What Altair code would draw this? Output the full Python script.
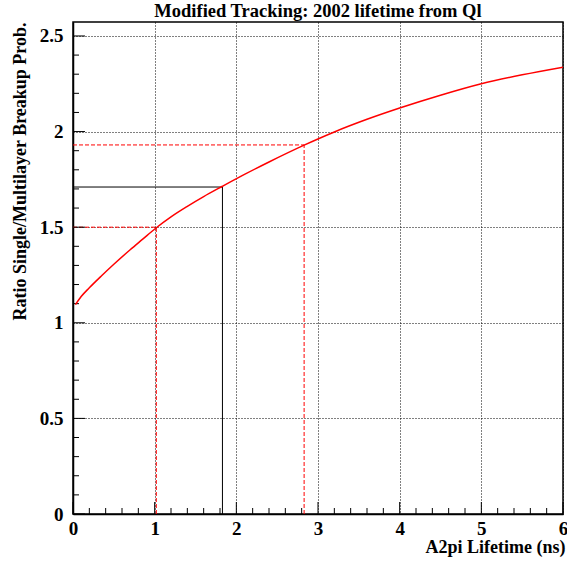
import altair as alt
import pandas as pd

# curve
curve_x = [0.03, 0.1, 0.2, 0.35, 0.5, 0.7, 0.85, 1.02, 1.2, 1.4, 1.6, 1.83, 2.1, 2.4, 2.83,
           3.2, 3.6, 4.0, 4.5, 5.0, 5.5, 6.0]
curve_y = [1.095, 1.137, 1.183, 1.246, 1.306, 1.382, 1.436, 1.497, 1.554, 1.609, 1.660, 1.714,
           1.776, 1.841, 1.929, 1.998, 2.064, 2.123, 2.190, 2.250, 2.297, 2.337]

# reference (drop) lines
ref_x = [1.02, 1.83, 2.83]
ref_y = [1.5, 1.71, 1.93]
ref_kind = ["red", "black", "red2"]

# axis ticks
x_major = [0, 1, 2, 3, 4, 5, 6]
x_minor = [0.2, 0.4, 0.6, 0.8, 1.2, 1.4, 1.6, 1.8, 2.2, 2.4, 2.6, 2.8,
           3.2, 3.4, 3.6, 3.8, 4.2, 4.4, 4.6, 4.8, 5.2, 5.4, 5.6, 5.8]
y_major = [0, 0.5, 1.0, 1.5, 2.0, 2.5]
y_minor = [0.1, 0.2, 0.3, 0.4, 0.6, 0.7, 0.8, 0.9, 1.1, 1.2, 1.3, 1.4,
           1.6, 1.7, 1.8, 1.9, 2.1, 2.2, 2.3, 2.4]

X_MAX = 6
Y_MAX = 2.573
W, H = 490, 492
FONT = "Liberation Serif"

curve = pd.DataFrame({"x": curve_x, "y": curve_y})
refs = pd.DataFrame({"x": ref_x, "y": ref_y, "kind": ref_kind, "zero": [0.0] * 3})

xs = alt.Scale(domain=[0, X_MAX], nice=False, zero=True)
ys = alt.Scale(domain=[0, Y_MAX], nice=False, zero=True)

xaxis = alt.Axis(
    values=x_major, grid=True, gridDash=[1, 2], gridColor="black", gridWidth=1,
    ticks=False, tickSize=0, domain=True, domainColor="black", domainWidth=1.5,
    labelFont=FONT, labelFontWeight="bold", labelFontSize=19, labelColor="black",
    labelPadding=5, labelBaseline="top", labelFlush=False, labelOverlap=False,
    labelExpr="datum.value",
    title="A2pi Lifetime (ns)", titleFont=FONT, titleFontWeight="bold", titleFontSize=18,
    titleColor="black", titleAnchor="end", titleAlign="right", titleBaseline="alphabetic",
    titleX=492, titleY=38,
)
yaxis = alt.Axis(
    values=y_major, grid=True, gridDash=[1, 2], gridColor="black", gridWidth=1,
    ticks=False, tickSize=0, domain=True, domainColor="black", domainWidth=1.5,
    labelFont=FONT, labelFontWeight="bold", labelFontSize=19, labelColor="black",
    labelPadding=10, labelFlush=False, labelOverlap=False,
    labelExpr="datum.value",
    title="Ratio Single/Multilayer Breakup Prob.", titleFont=FONT, titleFontWeight="bold",
    titleFontSize=18, titleColor="black", titleAnchor="end", titleAlign="right",
    titleAngle=270, titleBaseline="alphabetic", titleX=-48, titleY=0,
)

base_line = alt.Chart(curve).mark_line(color="#ff0000", strokeWidth=1.5, interpolate="monotone", clip=True).encode(
    x=alt.X("x:Q", scale=xs, axis=xaxis),
    y=alt.Y("y:Q", scale=ys, axis=yaxis),
)

color_scale = alt.Scale(domain=["red", "black", "red2"], range=["#ff0000", "black", "#ff0000"])
dash_scale = alt.Scale(domain=["red", "black", "red2"], range=[[4, 2], [1, 0], [4, 2]])

vrules = alt.Chart(refs).mark_rule(strokeWidth=1).encode(
    x=alt.X("x:Q", scale=xs),
    y=alt.Y("zero:Q", scale=ys),
    y2="y:Q",
    color=alt.Color("kind:N", scale=color_scale, legend=None),
    strokeDash=alt.StrokeDash("kind:N", scale=dash_scale, legend=None),
)
hrules = alt.Chart(refs).mark_rule(strokeWidth=1).encode(
    x=alt.X("zero:Q", scale=xs),
    x2="x:Q",
    y=alt.Y("y:Q", scale=ys),
    color=alt.Color("kind:N", scale=color_scale, legend=None),
    strokeDash=alt.StrokeDash("kind:N", scale=dash_scale, legend=None),
)

def xticks(vals, size):
    return alt.Chart(pd.DataFrame({"t": vals})).mark_rule(color="black", strokeWidth=1).encode(
        x=alt.X("t:Q", scale=xs), y=alt.value(H), y2=alt.value(H - size))

def yticks(vals, size):
    return alt.Chart(pd.DataFrame({"t": vals})).mark_rule(color="black", strokeWidth=1).encode(
        y=alt.Y("t:Q", scale=ys), x=alt.value(0), x2=alt.value(size))

chart = alt.layer(
    vrules, hrules,
    xticks(x_major, 12), xticks(x_minor, 6), yticks(y_major, 12), yticks(y_minor, 6),
    base_line,
).properties(
    width=W, height=H,
    title=alt.TitleParams("Modified Tracking: 2002 lifetime from Ql", font=FONT, fontWeight="bold",
                          fontSize=18.5, color="black", anchor="middle", offset=2),
    autosize=alt.AutoSizeParams(type="none"),
    padding={"left": 73, "top": 22, "right": 4, "bottom": 49},
    background="white",
).configure_view(stroke="black", strokeWidth=1.5)

chart.save("out.html", embed_options={"renderer": "svg", "actions": False})
